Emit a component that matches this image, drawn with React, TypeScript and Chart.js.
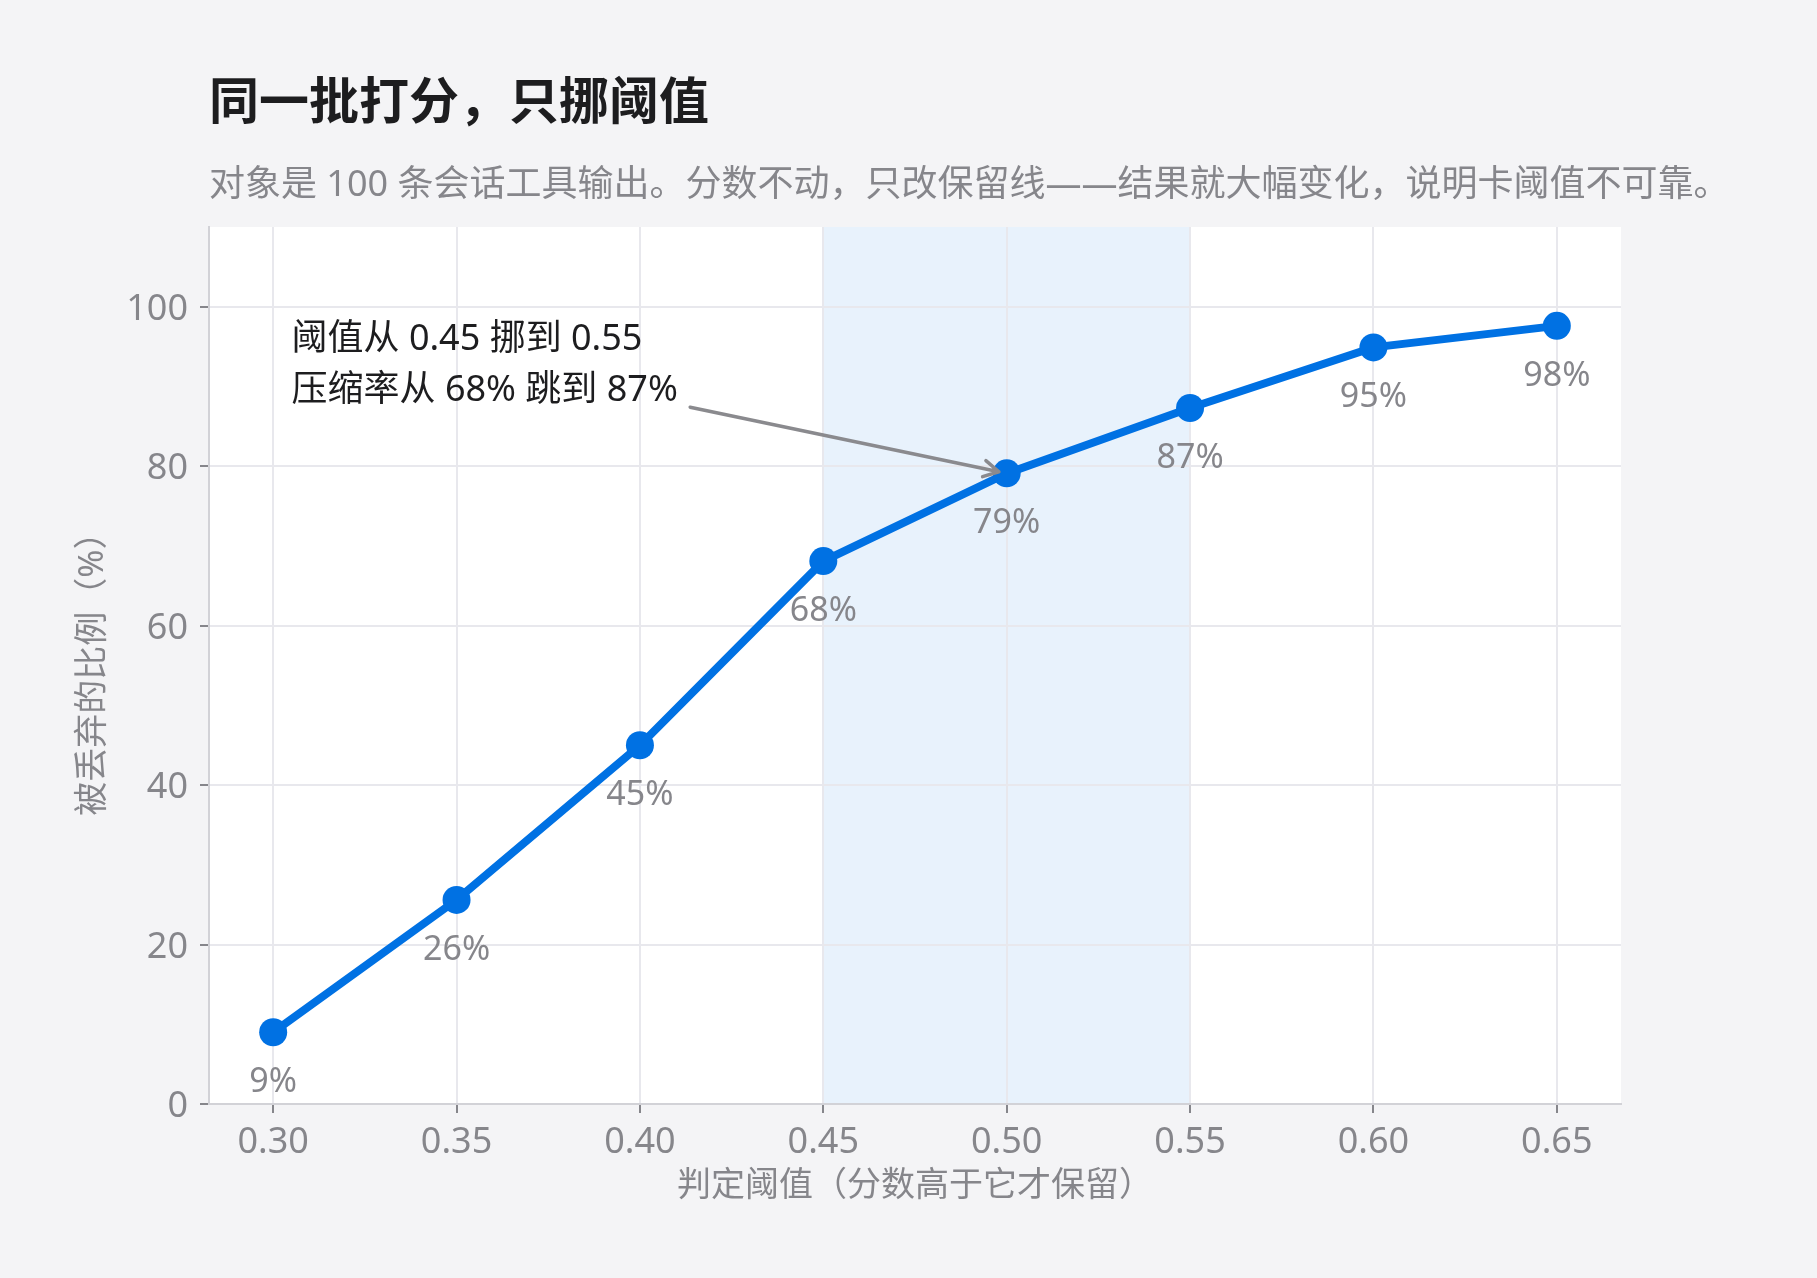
import React, { useEffect, useRef } from 'react';
import Chart from 'chart.js/auto';

// threshold vs. share of tool outputs dropped
const THRESHOLDS = [0.3, 0.35, 0.4, 0.45, 0.5, 0.55, 0.6, 0.65];
const DROP_RATES = [9, 25.6, 45, 68.1, 79.1, 87.3, 94.9, 97.6];
const X_TICKS = [0.3, 0.35, 0.4, 0.45, 0.5, 0.55, 0.6, 0.65];
const Y_TICKS = [0, 20, 40, 60, 80, 100];

// highlighted band and callout
const BAND_FROM = 0.45;
const BAND_TO = 0.55;
const NOTE_LINES = ['阈值从 0.45 挪到 0.55', '压缩率从 68% 跳到 87%'];
const NOTE_X = 0.305;
const NOTE_Y = [95.9, 89.5];
const ARROW_FROM = { x: 0.4137, y: 87.4 };
const ARROW_TO = { x: 0.5, y: 79.1 };

const TITLE = '同一批打分，只挪阈值';
const SUBTITLE = '对象是 100 条会话工具输出。分数不动，只改保留线——结果就大幅变化，说明卡阈值不可靠。';

const FONT = "'Noto Sans', 'Noto Sans CJK SC', sans-serif";
const BLUE = '#0071e3';
const GRAY = '#86868b';
const INK = '#1d1d1f';

const W = 1817;
const H = 1278;

const decor = {
  id: 'decor',
  beforeDraw(chart: any) {
    const { ctx, chartArea: a, scales } = chart;
    const x = scales.x;
    ctx.save();
    ctx.fillStyle = '#ffffff';
    ctx.fillRect(a.left, a.top, a.right - a.left, a.bottom - a.top);
    const x0 = x.getPixelForValue(BAND_FROM);
    const x1 = x.getPixelForValue(BAND_TO);
    ctx.fillStyle = 'rgba(0, 113, 227, 0.09)';
    ctx.fillRect(x0, a.top, x1 - x0, a.bottom - a.top);
    ctx.restore();
  },
  afterDatasetsDraw(chart: any) {
    const { ctx, scales } = chart;
    const x = scales.x;
    const y = scales.y;
    ctx.save();

    // value labels under each point
    ctx.font = `34px ${FONT}`;
    ctx.fillStyle = GRAY;
    ctx.textAlign = 'center';
    ctx.textBaseline = 'middle';
    THRESHOLDS.forEach((t, i) => {
      const v = DROP_RATES[i];
      ctx.fillText(`${Math.round(v)}%`, x.getPixelForValue(t), y.getPixelForValue(v) + 50);
    });

    // callout text
    ctx.font = `36px ${FONT}`;
    ctx.fillStyle = INK;
    ctx.textAlign = 'left';
    NOTE_LINES.forEach((line, i) => {
      ctx.fillText(line, x.getPixelForValue(NOTE_X), y.getPixelForValue(NOTE_Y[i]));
    });

    // arrow
    const tx = x.getPixelForValue(ARROW_FROM.x);
    const ty = y.getPixelForValue(ARROW_FROM.y);
    const px = x.getPixelForValue(ARROW_TO.x);
    const py = y.getPixelForValue(ARROW_TO.y);
    const ang = Math.atan2(py - ty, px - tx);
    const hx = px - Math.cos(ang) * 8;
    const hy = py - Math.sin(ang) * 8;
    const arm = 17;
    const spread = 0.5;
    ctx.strokeStyle = '#8a8a8e';
    ctx.lineWidth = 3.5;
    ctx.lineCap = 'round';
    ctx.lineJoin = 'round';
    ctx.beginPath();
    ctx.moveTo(tx, ty);
    ctx.lineTo(hx, hy);
    ctx.moveTo(hx - arm * Math.cos(ang - spread), hy - arm * Math.sin(ang - spread));
    ctx.lineTo(hx, hy);
    ctx.lineTo(hx - arm * Math.cos(ang + spread), hy - arm * Math.sin(ang + spread));
    ctx.stroke();
    ctx.restore();
  },
};

function ThresholdChart() {
  const canvasRef = useRef<HTMLCanvasElement>(null);

  useEffect(() => {
    if (!canvasRef.current) return;
    const chart = new Chart(canvasRef.current, {
      type: 'line',
      data: {
        datasets: [
          {
            data: THRESHOLDS.map((t, i) => ({ x: t, y: DROP_RATES[i] })),
            borderColor: BLUE,
            backgroundColor: BLUE,
            borderWidth: 8,
            pointRadius: 14,
            pointBorderWidth: 0,
            pointBackgroundColor: BLUE,
            tension: 0,
          },
        ],
      },
      options: {
        animation: false,
        responsive: false,
        devicePixelRatio: 1,
        layout: { padding: { top: 227, left: 0, right: 196, bottom: 0 } },
        plugins: {
          legend: { display: false },
          tooltip: { enabled: false },
        },
        scales: {
          x: {
            type: 'linear',
            min: 0.2825,
            max: 0.6675,
            afterFit: (s: any) => {
              s.height = 174;
            },
            afterBuildTicks: (s: any) => {
              s.ticks = X_TICKS.map((v) => ({ value: v }));
            },
            ticks: {
              callback: (v: any) => Number(v).toFixed(2),
              color: GRAY,
              font: { family: FONT, size: 36 },
              padding: 8,
              maxRotation: 0,
            },
            grid: {
              color: '#e8e8ed',
              lineWidth: 2,
              tickLength: 9,
              tickColor: GRAY,
              tickWidth: 2,
            },
            border: { display: true, color: '#d2d2d7', width: 2 },
            title: {
              display: true,
              text: '判定阈值（分数高于它才保留）',
              color: GRAY,
              font: { family: FONT, size: 34 },
              padding: { top: 0, bottom: 71 },
            },
          },
          y: {
            min: 0,
            max: 110,
            afterFit: (s: any) => {
              s.width = 209;
            },
            afterBuildTicks: (s: any) => {
              s.ticks = Y_TICKS.map((v) => ({ value: v }));
            },
            ticks: {
              color: GRAY,
              font: { family: FONT, size: 36 },
              padding: 12,
              labelOffset: 3,
            },
            grid: {
              color: '#e8e8ed',
              lineWidth: 2,
              tickLength: 9,
              tickColor: GRAY,
              tickWidth: 2,
            },
            border: { display: true, color: '#d2d2d7', width: 2 },
            title: {
              display: true,
              text: '被丢弃的比例（%）',
              color: GRAY,
              font: { family: FONT, size: 34 },
              padding: { top: 73, bottom: 0 },
            },
          },
        },
      },
      plugins: [decor],
    });
    return () => chart.destroy();
  }, []);

  return (
    <canvas
      ref={canvasRef}
      width={W}
      height={H}
      style={{ position: 'absolute', left: 0, top: 0, width: W, height: H }}
    />
  );
}

export default function App() {
  useEffect(() => {
    document.body.style.margin = '0';
  }, []);

  return (
    <div
      style={{
        position: 'absolute',
        left: 0,
        top: 0,
        width: W,
        height: H,
        background: '#f4f4f6',
        overflow: 'hidden',
        fontFamily: FONT,
      }}
    >
      <ThresholdChart />
      <div
        style={{
          position: 'absolute',
          left: 209,
          top: 75,
          fontSize: 50,
          lineHeight: '50px',
          fontWeight: 700,
          color: INK,
          whiteSpace: 'nowrap',
        }}
      >
        {TITLE}
      </div>
      <div
        style={{
          position: 'absolute',
          left: 209,
          top: 165,
          fontSize: 36,
          lineHeight: '36px',
          color: GRAY,
          whiteSpace: 'nowrap',
        }}
      >
        {SUBTITLE}
      </div>
    </div>
  );
}
